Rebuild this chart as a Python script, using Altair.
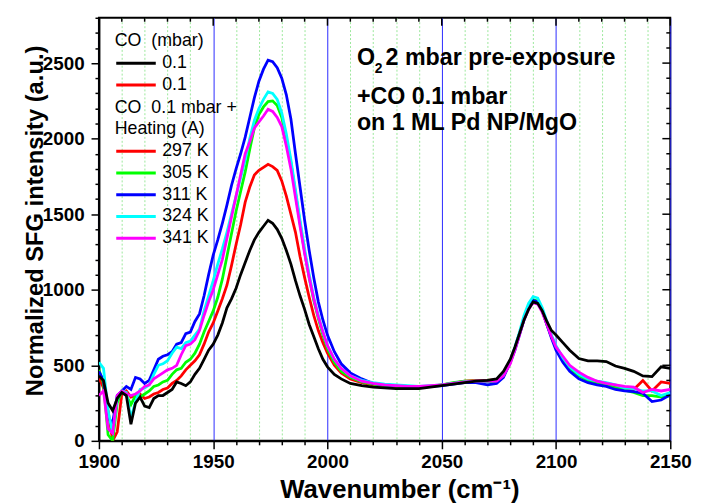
import altair as alt
import pandas as pd

# ---------------- data ----------------
wavenumber = [1900, 1902, 1904, 1906, 1908, 1910, 1912, 1914, 1916, 1918, 1920, 1922, 1924, 1926, 1928,
              1930, 1932, 1934, 1936, 1938, 1940, 1942, 1944, 1946, 1948, 1950, 1952, 1954, 1956, 1958,
              1960, 1962, 1964, 1966, 1968, 1970, 1972, 1974, 1976, 1978, 1980, 1982, 1984, 1986, 1988,
              1990, 1992, 1994, 1996, 1998, 2000, 2003, 2006, 2010, 2015, 2020, 2025, 2030, 2035, 2040,
              2045, 2050, 2055, 2060, 2065, 2070, 2074, 2077, 2080, 2082, 2084, 2086, 2088, 2090, 2092,
              2094, 2096, 2098, 2100, 2103, 2106, 2110, 2114, 2118, 2122, 2126, 2130, 2134, 2138, 2142,
              2146, 2150]

co_01_black = [430, 400, 250, 200, 280, 320, 300, 110, 250, 290, 230, 220, 280, 300, 300,
               320, 340, 390, 380, 365, 390, 440, 480, 540, 600, 640, 700, 780, 880, 940,
               1010, 1100, 1180, 1260, 1330, 1380, 1420, 1460, 1440, 1400, 1340, 1260, 1170, 1060, 960,
               870, 770, 690, 610, 540, 490, 440, 410, 380, 365, 355, 350, 345, 345, 345,
               355, 365, 375, 385, 395, 400, 410, 460, 540, 620, 710, 800, 870, 920, 910,
               860, 790, 730, 700, 650, 600, 545, 530, 530, 525, 495, 480, 460, 430, 425,
               490, 480]

heat_297K = [420, 350, 200, 0, 60, 310, 330, 290, 300, 310, 280, 290, 310, 320, 340,
             350, 380, 400, 430, 470, 500, 530, 570, 640, 720, 780, 860, 940, 1030, 1160,
             1300, 1430, 1580, 1680, 1760, 1790, 1810, 1830, 1815, 1790, 1720, 1620, 1500, 1380, 1220,
             1080, 950, 830, 730, 650, 580, 500, 450, 410, 385, 370, 365, 360, 360, 355,
             360, 370, 380, 395, 400, 400, 405, 445, 530, 610, 710, 810, 880, 930, 915,
             860, 775, 690, 620, 545, 485, 440, 405, 385, 370, 355, 345, 340, 400, 330,
             390, 380]

heat_305K = [470, 380, 40, 0, 250, 330, 300, 240, 300, 290, 310, 330, 360, 370, 390,
             400, 440, 470, 480, 520, 540, 580, 640, 720, 790, 860, 950, 1070, 1220, 1370,
             1520, 1650, 1780, 1930, 2070, 2160, 2210, 2245, 2250, 2220, 2140, 2000, 1840, 1640, 1440,
             1250, 1080, 930, 810, 700, 610, 520, 460, 420, 390, 375, 365, 360, 360, 355,
             360, 370, 385, 395, 395, 390, 395, 430, 520, 610, 710, 810, 890, 935, 925,
             860, 770, 690, 615, 540, 480, 430, 400, 375, 370, 350, 335, 320, 300, 300,
             290, 300]

heat_311K = [460, 400, 150, 120, 300, 330, 360, 340, 420, 410, 380, 400, 470, 540, 560,
             570, 590, 640, 650, 710, 720, 790, 840, 960, 1100, 1230, 1330, 1440, 1560, 1690,
             1800, 1900, 2010, 2140, 2270, 2380, 2460, 2520, 2510, 2470, 2400, 2290, 2130, 1900, 1680,
             1460, 1260, 1080, 920, 800, 700, 590, 510, 450, 410, 380, 370, 365, 360, 355,
             360, 365, 375, 385, 385, 370, 380, 420, 520, 600, 700, 800, 880, 930, 920,
             860, 770, 680, 600, 520, 460, 410, 385, 370, 360, 340, 330, 325, 315, 260,
             270, 305]

heat_324K = [520, 480, 200, 50, 280, 330, 320, 150, 260, 340, 350, 370, 440, 500, 510,
             530, 580, 620, 610, 650, 660, 700, 740, 860, 960, 1060, 1170, 1270, 1380, 1500,
             1620, 1740, 1860, 2000, 2120, 2200, 2260, 2310, 2300, 2260, 2170, 2030, 1860, 1660, 1460,
             1270, 1100, 950, 830, 720, 630, 540, 480, 430, 400, 385, 375, 370, 365, 360,
             365, 370, 380, 390, 395, 395, 400, 440, 530, 620, 720, 830, 910, 955, 945,
             880, 790, 700, 630, 550, 490, 440, 410, 395, 385, 370, 350, 345, 330, 330,
             300, 320]

heat_341K = [300, 330, 80, 50, 300, 330, 310, 300, 310, 330, 360, 370, 410, 430, 450,
             470, 480, 500, 570, 630, 640, 670, 730, 830, 920, 1000, 1100, 1200, 1340, 1480,
             1620, 1760, 1900, 1980, 2070, 2110, 2150, 2195, 2180, 2140, 2080, 1950, 1800, 1610, 1420,
             1240, 1080, 940, 820, 720, 630, 540, 480, 430, 395, 380, 370, 365, 360, 360,
             365, 370, 380, 390, 395, 395, 395, 430, 510, 600, 700, 800, 870, 915, 905,
             850, 770, 690, 620, 560, 500, 455, 420, 395, 380, 370, 360, 355, 320, 340,
             330, 340]

legend1_labels = ["0.1", "0.1\u00a0"]
legend1_colors = ["#000000", "#ff0000"]
legend2_labels = ["297 K", "305 K", "311 K", "324 K", "341 K"]
legend2_colors = ["#ff0000", "#00ff00", "#0000ff", "#00ffff", "#ff00ff"]

x_ticks = list(range(1900, 2151, 10))
y_ticks = list(range(0, 2801, 100))

# ---------------- tables ----------------
df_black = pd.DataFrame({"wn": wavenumber, "val": co_01_black, "series": legend1_labels[0]})
heat_series = [heat_297K, heat_305K, heat_311K, heat_324K, heat_341K]
df_heat = pd.concat(
    [pd.DataFrame({"wn": wavenumber, "val": s, "series": lab}) for s, lab in zip(heat_series, legend2_labels)],
    ignore_index=True,
)

W, H = 578, 428
FONT = "Liberation Sans"
major50 = "datum.value % 50 === 0"
major500 = "datum.value % 500 === 0"

x_axis = alt.Axis(
    values=x_ticks,
    labelExpr=f"{major50} ? datum.label : ''",
    format="d",
    labelFlush=False,
    labelOverlap=False,
    grid=True,
    gridColor={"condition": {"test": major50, "value": "#2a2aff"}, "value": "#9be89b"},
    gridDash={"condition": {"test": major50, "value": []}, "value": [2, 2]},
    gridWidth=1,
    tickSize={"condition": {"test": major50, "value": 8}, "value": 4},
    title="Wavenumber (cm\u207b\u00b9)",
    titleFontSize=26,
    titleX=304,
    titleY=57,
    titleAlign="center",
    titleBaseline="alphabetic",
    labelPadding=4,
)
y_axis = alt.Axis(
    values=y_ticks,
    labelExpr=f"{major500} ? datum.label : ''",
    format="d",
    labelFlush=False,
    labelOverlap=False,
    grid=False,
    tickSize={"condition": {"test": major500, "value": 8}, "value": 4},
    title="Normalized SFG intensity (a.u.)",
    titleFontSize=24,
    titleX=-57,
    titleY=205,
    titleAngle=270,
    titleAlign="center",
    titleBaseline="alphabetic",
    labelPadding=7,
)

x_enc = alt.X("wn:Q", scale=alt.Scale(domain=[1900, 2150], nice=False, zero=False, padding=0), axis=x_axis)
y_enc = alt.Y("val:Q", scale=alt.Scale(domain=[0, 2800], nice=False, padding=0), axis=y_axis)

legend_common = dict(
    orient="none",
    symbolType="stroke",
    symbolSize=1600,
    symbolStrokeWidth=3,
    clipHeight=18,
    rowPadding=4,
    labelOffset=5,
    titlePadding=4,
    padding=0,
    labelFontSize=18,
    titleFontSize=18,
    titleFontWeight="normal",
    labelFont=FONT,
    titleFont=FONT,
    labelColor="#000000",
    titleColor="#000000",
    labelLimit=300,
    titleLimit=300,
    titleLineHeight=22,
    legendX=16,
)

black_layer = alt.Chart(df_black).mark_line(strokeWidth=2.8, clip=True).encode(
    x=x_enc,
    y=y_enc,
    color=alt.Color(
        "series:N",
        scale=alt.Scale(domain=legend1_labels, range=legend1_colors),
        legend=alt.Legend(title="CO\u00a0 (mbar)", legendY=15, **legend_common),
    ),
)

heat_layer = alt.Chart(df_heat).mark_line(strokeWidth=2.8, clip=True).encode(
    x=x_enc,
    y=y_enc,
    color=alt.Color(
        "series:N",
        scale=alt.Scale(domain=legend2_labels, range=legend2_colors),
        sort=legend2_labels,
        legend=alt.Legend(title=["CO\u00a0 0.1 mbar +", "Heating (A)"], legendY=82, **legend_common),
    ),
    detail="series:N",
)

# inward ticks on the top and right frame (positions along the axis come from the shared scales)
top_minor = alt.Chart(pd.DataFrame({"wn": [v for v in x_ticks if v % 50]})).mark_rule(
    color="black", strokeWidth=1.5).encode(x=x_enc, y=alt.value(0), y2=alt.value(4))
top_major = alt.Chart(pd.DataFrame({"wn": [v for v in x_ticks if v % 50 == 0]})).mark_rule(
    color="black", strokeWidth=1.5).encode(x=x_enc, y=alt.value(0), y2=alt.value(8))
right_minor = alt.Chart(pd.DataFrame({"val": [v for v in y_ticks if v % 500]})).mark_rule(
    color="black", strokeWidth=1.5).encode(y=y_enc, x=alt.value(W - 4), x2=alt.value(W))
right_major = alt.Chart(pd.DataFrame({"val": [v for v in y_ticks if v % 500 == 0]})).mark_rule(
    color="black", strokeWidth=1.5).encode(y=y_enc, x=alt.value(W - 8), x2=alt.value(W))

# annotation text
def note(text, x, y, size):
    return alt.Chart(pd.DataFrame({"t": [text]})).mark_text(
        align="left", baseline="alphabetic", font=FONT, fontWeight="bold", fontSize=size, color="black"
    ).encode(text="t:N", x=alt.value(x), y=alt.value(y))

notes = [
    note("O", 261, 48, 23.5),
    note("2", 279, 56, 14),
    note("2 mbar pre-exposure", 290, 48, 23.5),
    note("+CO 0.1 mbar", 261, 87, 23.5),
    note("on 1 ML Pd NP/MgO", 261, 114, 23.5),
]

chart = alt.layer(
    heat_layer, black_layer, top_minor, top_major, right_minor, right_major, *notes
).resolve_scale(color="independent").properties(
    width=W,
    height=H,
    background="white",
    autosize=alt.AutoSizeParams(type="none"),
    padding={"left": 92, "top": 7, "right": 24, "bottom": 61},
).configure_view(
    stroke="black", strokeWidth=2
).configure_axis(
    labelFont=FONT,
    labelFontWeight="bold",
    labelFontSize=19,
    labelColor="black",
    titleFont=FONT,
    titleFontWeight="bold",
    titleColor="black",
    tickColor="black",
    tickWidth=1.5,
    domainColor="black",
    domainWidth=2,
)

chart.save("out.html", embed_options={"renderer": "svg", "actions": False})
